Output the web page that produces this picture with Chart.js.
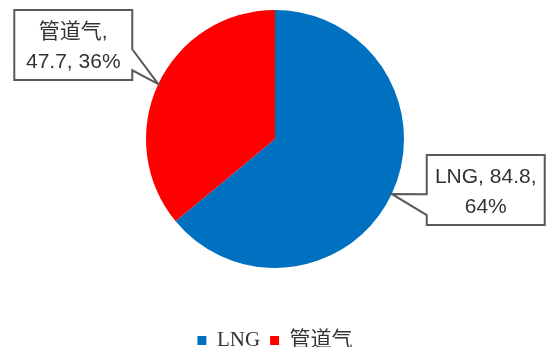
<!DOCTYPE html>
<html>
<head>
<meta charset="utf-8">
<script src="https://cdn.jsdelivr.net/npm/chart.js@4/dist/chart.umd.min.js"></script>
<style>
  html, body { margin: 0; padding: 0; background: #fff; }
  #wrap { width: 548px; height: 347px; }
</style>
</head>
<body>
<div id="wrap"><canvas id="gasChart"></canvas></div>
<script>
const categories = ["LNG", "管道气"];
const volumes = [84.8, 47.7];
const sliceColors = ["#0070C0", "#FF0000"];

const CALLOUT_FONT = '21px "Liberation Sans", "Noto Sans CJK SC", sans-serif';

// wraps "name, value, pct%" into lines no wider than maxW
function wrapLabel(ctx, parts, maxW) {
  const lines = [];
  let cur = "";
  parts.forEach(p => {
    const next = cur ? cur + " " + p : p;
    if (cur && ctx.measureText(next).width > maxW) {
      lines.push(cur);
      cur = p;
    } else {
      cur = next;
    }
  });
  if (cur) lines.push(cur);
  return lines;
}

// boxed data labels with a wedge pointing at the slice
const calloutPlugin = {
  id: "callouts",
  afterDatasetsDraw(chart) {
    const ctx = chart.ctx;
    const meta = chart.getDatasetMeta(0);
    const data = chart.data.datasets[0].data;
    const total = data.reduce((a, b) => a + b, 0);
    const boxW = 118, boxH = 70, lineH = 30;

    meta.data.forEach((arc, i) => {
      const p = arc.getProps(["x", "y", "startAngle", "endAngle", "outerRadius"], true);
      const mid = (p.startAngle + p.endAngle) / 2;
      const tx = p.x + Math.cos(mid) * p.outerRadius;
      const ty = p.y + Math.sin(mid) * p.outerRadius;
      const leftSide = Math.cos(mid) < 0;

      let left, top;
      if (leftSide) {
        left = tx - 26 - boxW;
        top = ty - 4 - boxH;
      } else {
        left = tx + 35;
        top = ty - 39;
      }
      const right = left + boxW, bottom = top + boxH;
      const y1 = top + boxH * 0.56, y2 = top + boxH * 0.86;

      ctx.save();
      ctx.beginPath();
      if (leftSide) {
        ctx.moveTo(left, top);
        ctx.lineTo(right, top);
        ctx.lineTo(right, y1);
        ctx.lineTo(tx, ty);
        ctx.lineTo(right, y2);
        ctx.lineTo(right, bottom);
        ctx.lineTo(left, bottom);
      } else {
        ctx.moveTo(left, top);
        ctx.lineTo(right, top);
        ctx.lineTo(right, bottom);
        ctx.lineTo(left, bottom);
        ctx.lineTo(left, y2);
        ctx.lineTo(tx, ty);
        ctx.lineTo(left, y1);
      }
      ctx.closePath();
      ctx.fillStyle = "#fff";
      ctx.fill();
      ctx.strokeStyle = "#595959";
      ctx.lineWidth = 2;
      ctx.lineJoin = "miter";
      ctx.stroke();

      ctx.font = CALLOUT_FONT;
      ctx.fillStyle = "#333333";
      ctx.textAlign = "center";
      ctx.textBaseline = "middle";
      const pct = Math.round(data[i] / total * 100);
      const parts = [chart.data.labels[i] + ",", data[i] + ",", pct + "%"];
      const lines = wrapLabel(ctx, parts, 105);
      const cx = (left + right) / 2;
      const cy = (top + bottom) / 2 + 2;
      lines.forEach((ln, k) => {
        ctx.fillText(ln, cx, cy + (k - (lines.length - 1) / 2) * lineH);
      });
      ctx.restore();
    });
  }
};

const ctx = document.getElementById("gasChart").getContext("2d");
new Chart(ctx, {
  type: "pie",
  data: {
    labels: categories,
    datasets: [{
      data: volumes,
      backgroundColor: sliceColors,
      borderWidth: 0
    }]
  },
  options: {
    responsive: true,
    maintainAspectRatio: false,
    animation: false,
    layout: { padding: { top: 10, left: 2, right: 0, bottom: -14 } },
    plugins: {
      tooltip: { enabled: false },
      legend: {
        position: "bottom",
        // empty title used as spacer so the legend sits low under the pie
        title: { display: true, text: "", font: { size: 10, lineHeight: 1 }, padding: { top: 42, bottom: 0 } },
        labels: {
          boxWidth: 9,
          boxHeight: 9,
          padding: 10,
          color: "#333333",
          font: { family: '"Liberation Serif", "Noto Sans CJK SC", serif', size: 21 }
        }
      }
    }
  },
  plugins: [calloutPlugin]
});
</script>
</body>
</html>
